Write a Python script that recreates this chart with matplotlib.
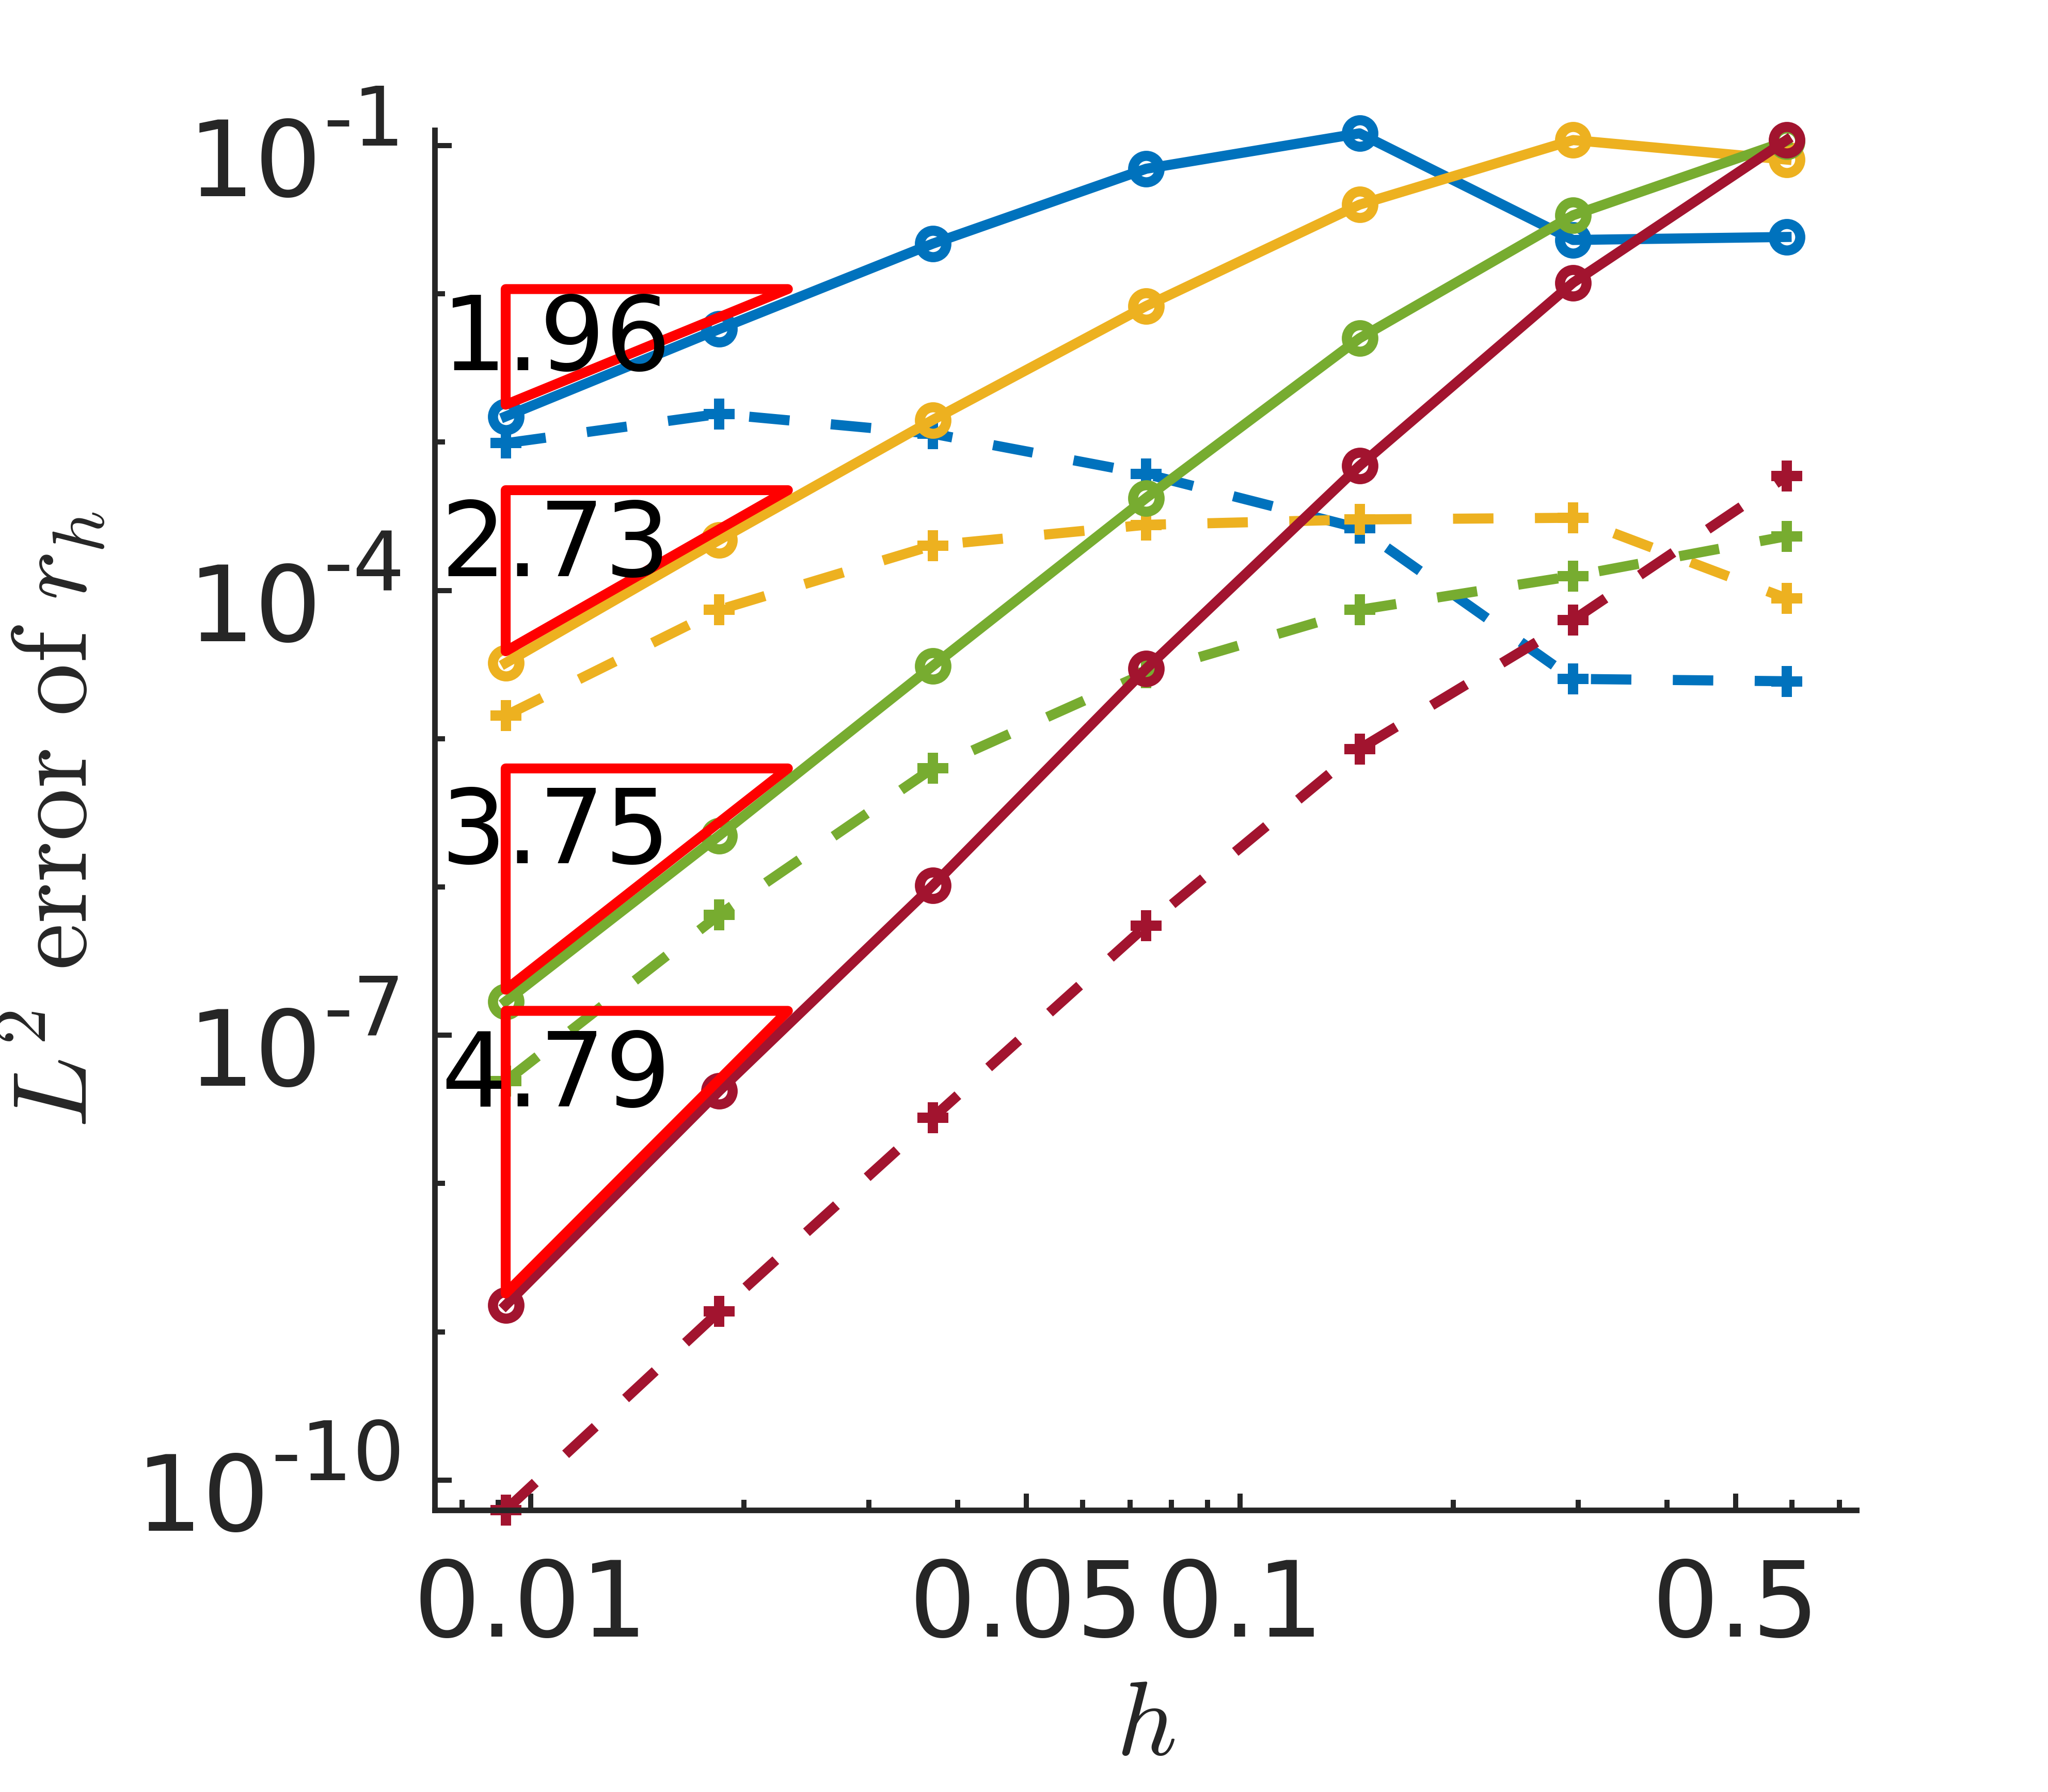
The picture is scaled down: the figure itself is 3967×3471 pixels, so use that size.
import numpy as np
import matplotlib
matplotlib.use('Agg')
import matplotlib.pyplot as plt
from matplotlib.patches import Polygon
from matplotlib.ticker import FixedLocator, FixedFormatter, NullFormatter
from matplotlib.transforms import blended_transform_factory, ScaledTranslation

plt.rcParams['font.family'] = ['DejaVu Sans']
plt.rcParams['mathtext.fontset'] = 'cm'

# mesh sizes
h = [0.00922, 0.01844, 0.03688, 0.07375, 0.1475, 0.295, 0.59]

# L2 errors of r_h (solid = 'o', dashed = '+')
err_k1 = [1.49e-3, 5.79e-3, 2.18e-2, 6.98e-2, 1.21e-1, 2.31e-2, 2.42e-2]
err_k1_b = [9.84e-4, 1.55e-3, 1.14e-3, 6.10e-4, 2.62e-4, 2.53e-5, 2.44e-5]
err_k2 = [3.24e-5, 2.19e-4, 1.41e-3, 8.28e-3, 4.00e-2, 1.09e-1, 8.05e-2]
err_k2_b = [1.43e-5, 7.40e-5, 2.01e-4, 2.77e-4, 3.01e-4, 3.09e-4, 8.83e-5]
err_k3 = [1.69e-7, 2.22e-6, 3.09e-5, 4.20e-4, 5.02e-3, 3.39e-2, 1.07e-1]
err_k3_b = [4.89e-8, 6.49e-7, 6.31e-6, 2.78e-5, 7.40e-5, 1.25e-4, 2.32e-4]
err_k4 = [1.51e-9, 4.21e-8, 1.02e-6, 2.96e-5, 6.93e-4, 1.19e-2, 1.09e-1]
err_k4_b = [6.27e-11, 1.37e-9, 2.77e-8, 5.47e-7, 8.53e-6, 6.31e-5, 5.89e-4]

# convergence rates shown in the slope triangles
rates = [1.96, 2.73, 3.75, 4.79]
rate_labels = ['1.96', '2.73', '3.75', '4.79']
rate_label_y = [3.06e-3, 1.25e-4, 1.445e-6, 3.30e-8]

# axis ticks
xticks = [0.01, 0.05, 0.1, 0.5]
xtick_labels = ['0.01', '0.05', '0.1', '0.5']
xminor = [0.008, 0.009, 0.02, 0.03, 0.04, 0.06, 0.07, 0.08, 0.09, 0.2, 0.3, 0.4, 0.6, 0.7]
yticks = [1e-10, 1e-7, 1e-4, 1e-1]
ytick_exps = ['-10', '-7', '-4', '-1']
yminor = [1e-9, 1e-8, 1e-6, 1e-5, 1e-3, 1e-2]

colors = ['#0072BD', '#EDB120', '#77AC30', '#A2142F']
solid = [err_k1, err_k2, err_k3, err_k4]
dashed = [err_k1_b, err_k2_b, err_k3_b, err_k4_b]

axcol = '#262626'
LW = 4.7

fig = plt.figure(figsize=(3967/300, 3471/300), dpi=300)
ax = fig.add_axes([0.21225, 0.15730, 0.69422, 0.77009])

for c, es, ed in zip(colors, solid, dashed):
    ax.plot(h, es, '-', color=c, lw=LW, marker='o', ms=12.3, mew=4.7,
            mfc='none', mec=c, clip_on=False)
    ax.plot(h, ed, '--', color=c, lw=LW, marker='+', ms=14.2, mew=4.8,
            mec=c, dashes=(4.0, 4.1), clip_on=False)

# slope triangles
for r, es, lab, ly in zip(rates, solid, rate_labels, rate_label_y):
    x0 = h[0]
    y0 = es[0]*1.2
    x1 = x0*2.5
    y1 = y0*2.5**r
    tri = Polygon([[x0, y0], [x1, y1], [x0, y1]], closed=True, fill=False,
                  ec='#FF0000', lw=4.6, joinstyle='round', zorder=5, clip_on=False)
    ax.add_patch(tri)
    ax.text(h[0]*0.81, ly, lab, fontsize=48, color='black', ha='left',
            va='baseline', zorder=6)

ax.set_xscale('log')
ax.set_yscale('log')
ax.set_xlim(0.007322, 0.7403)
ax.set_ylim(10**-10.203, 10**-0.8955)

ax.xaxis.set_major_locator(FixedLocator(xticks))
ax.xaxis.set_major_formatter(FixedFormatter(xtick_labels))
ax.xaxis.set_minor_locator(FixedLocator(xminor))
ax.xaxis.set_minor_formatter(NullFormatter())

ax.yaxis.set_major_locator(FixedLocator(yticks))
ax.yaxis.set_major_formatter(NullFormatter())
ax.yaxis.set_minor_locator(FixedLocator(yminor))
ax.yaxis.set_minor_formatter(NullFormatter())

ax.spines['top'].set_visible(False)
ax.spines['right'].set_visible(False)
for s in ['left', 'bottom']:
    ax.spines[s].set_linewidth(2.6)
    ax.spines[s].set_color(axcol)

ax.tick_params(which='both', direction='in', color=axcol, width=2.4,
               labelcolor=axcol, labelsize=49)
ax.tick_params(which='major', length=7.8)
ax.tick_params(which='minor', length=4.7)
ax.tick_params(axis='x', which='major', pad=21.5)

# y tick labels drawn as "10" plus a raised exponent, MATLAB style
trans = blended_transform_factory(ax.transAxes, ax.transData)
renderer = fig.canvas.get_renderer()
exp_dx = -13.9/72
for v, e in zip(yticks, ytick_exps):
    te = ax.text(0, v, e, fontsize=38, color=axcol, ha='right', va='baseline',
                 transform=trans + ScaledTranslation(exp_dx, 0, fig.dpi_scale_trans))
    bb = te.get_window_extent(renderer)
    ax.text(0, v, '10', fontsize=49, color=axcol, ha='right', va='baseline',
            transform=trans + ScaledTranslation(exp_dx - bb.width/fig.dpi - 0.01,
                                                -23.5/72, fig.dpi_scale_trans))

fig.text(168/3967, 1-1588/3471, r'$L^2\ \mathrm{error\ of}\ r_h$', rotation=90,
         rotation_mode='anchor', ha='center', va='baseline', fontsize=49, color=axcol)
fig.text(2219/3967, 1-3399/3471, r'$h$', ha='center', va='baseline',
         fontsize=49, color=axcol)

fig.savefig('out.png', dpi=300)
